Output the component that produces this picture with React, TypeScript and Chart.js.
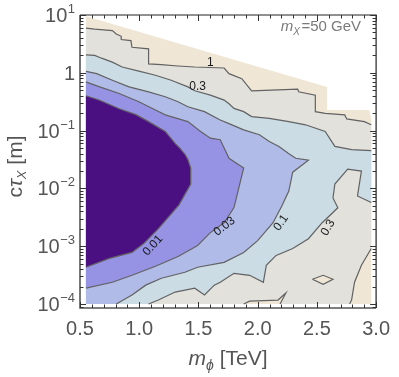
import React, { useEffect, useRef } from 'react';
import { Chart, registerables } from 'chart.js';

Chart.register(...registerables);

type P = [number, number]; // [m_phi (TeV), c tau (m)]

// ---- axis setup ----
const X_MIN = 0.5;
const X_MAX = 3.0;
const X_TICKS = [0.5, 1.0, 1.5, 2.0, 2.5, 3.0];
const Y_MIN = 8.53e-5;
const Y_MAX = 10;
const Y_TICK_EXPONENTS = [-4, -3, -2, -1, 0, 1];

// ---- region where the scan exists (outside is blank) ----
const scanDomain: P[] = [
  [0.55, 1e-4], [0.55, 9.5], [2.586, 0.57], [2.586, 0.228], [2.942, 0.228], [2.959, 0.16], [2.959, 1e-4],
];

// ---- contour level 1 ----
const contour1Upper: P[] = [
  [0.55, 5.94], [0.624, 5.71], [0.773, 5.36], [0.806, 4.69], [0.848, 4.28], [0.848, 3.76], [0.93, 3.61],
  [0.939, 2.77], [1.079, 2.59], [1.079, 1.43], [1.187, 1.38], [1.328, 1.31], [1.469, 1.26], [1.717, 1.21],
  [1.758, 0.966], [1.866, 0.792], [1.949, 0.488], [2.114, 0.501], [2.338, 0.521], [2.346, 0.469],
  [2.487, 0.411], [2.487, 0.213], [2.57, 0.199], [2.735, 0.187], [2.752, 0.159], [2.901, 0.143], [2.959, 0.126],
];
const contour1Lower: P[] = [
  [2.959, 0.000914], [2.876, 0.000467], [2.818, 0.000238], [2.793, 0.000117], [2.776, 1e-4],
];
const contour1Island: P[] = [
  [2.462, 0.000268], [2.553, 0.000314], [2.636, 0.000268], [2.553, 0.00022], [2.462, 0.000268],
];
const contour1Bottom: P[] = [
  [1.882, 1e-4], [1.932, 0.000112], [2.172, 0.000117], [2.238, 0.000155], [2.189, 1e-4],
];

// ---- contour level 0.3 ----
const contour03Upper: P[] = [
  [0.55, 2.04], [0.624, 2.0], [0.682, 1.79], [0.773, 1.53], [0.856, 1.26], [0.997, 1.07], [1.137, 0.906],
  [1.27, 0.743], [1.411, 0.57], [1.469, 0.488], [1.601, 0.411], [1.717, 0.337], [1.758, 0.292], [1.8, 0.242],
  [1.882, 0.213], [1.949, 0.175], [2.098, 0.163], [2.263, 0.143], [2.404, 0.126], [2.57, 0.0966],
  [2.652, 0.0533], [2.793, 0.0469], [2.959, 0.045],
];
const contour03Lower: P[] = [
  [2.959, 0.00569], [2.843, 0.00741], [2.876, 0.0199], [2.76, 0.0215], [2.652, 0.0119], [2.636, 0.00684],
  [2.677, 0.00462], [2.545, 0.00255], [2.429, 0.00135], [2.296, 0.000914], [2.156, 0.000692], [2.073, 0.000467],
  [2.048, 0.000238], [1.932, 0.000314], [1.8, 0.00034], [1.684, 0.000238], [1.634, 0.000212], [1.551, 0.000143],
  [1.469, 0.000188], [1.303, 0.000161], [1.162, 0.000117], [1.079, 1e-4],
];

// ---- contour level 0.1 ----
const contour01: P[] = [
  [0.55, 1.06], [0.641, 0.966], [0.773, 0.743], [0.914, 0.57], [1.079, 0.469], [1.22, 0.385], [1.328, 0.315],
  [1.411, 0.259], [1.551, 0.213], [1.684, 0.153], [1.758, 0.132], [1.882, 0.103], [2.015, 0.0847], [2.098, 0.065],
  [2.18, 0.0533], [2.255, 0.0409], [2.321, 0.0332], [2.429, 0.0307], [2.296, 0.0191], [2.263, 0.00901],
  [2.205, 0.00499], [2.13, 0.00255], [2.0, 0.00125], [1.882, 0.00078], [1.717, 0.000525], [1.493, 0.000432],
  [1.386, 0.000354], [1.187, 0.000279], [1.055, 0.000212], [0.939, 0.000143], [0.806, 1e-4],
];

// ---- contour level 0.03 ----
const contour003: P[] = [
  [0.55, 0.695], [0.666, 0.57], [0.831, 0.439], [0.997, 0.315], [1.137, 0.228], [1.22, 0.187], [1.411, 0.143],
  [1.518, 0.0966], [1.601, 0.0741], [1.684, 0.0695], [1.717, 0.0499], [1.758, 0.0332], [1.882, 0.0226],
  [1.8, 0.00467], [1.717, 0.00255], [1.601, 0.00172], [1.493, 0.00103], [1.328, 0.000665], [1.137, 0.000449],
  [0.939, 0.000314], [0.773, 0.000238], [0.55, 0.000188],
];

// ---- contour level 0.01 ----
const contour001: P[] = [
  [0.55, 0.000432], [0.748, 0.000615], [0.939, 0.00078], [1.038, 0.00111], [1.162, 0.00201], [1.336, 0.00519],
  [1.435, 0.0119], [1.435, 0.0224], [1.411, 0.0315], [1.386, 0.0389], [1.344, 0.0493], [1.303, 0.0601],
  [1.22, 0.0966], [1.079, 0.143], [0.972, 0.189], [0.831, 0.239], [0.666, 0.335], [0.55, 0.4],
];

// ---- contour labels ----
const labelTexts = ['1', '0.3', '0.01', '0.03', '0.1', '0.3'];
const labelM = [1.601, 1.493, 1.115, 1.72, 2.197, 2.594];
const labelTau = [1.5, 0.58, 0.00103, 0.0022, 0.00255, 0.00209];
const labelAngle = [0, 0, -48, -38, -55, -60];

const COLORS = {
  above1: '#EFE6D6',
  c03to1: '#E2E1DB',
  c01to03: '#CBDCE4',
  c003to01: '#B1BBE8',
  c001to003: '#9692E4',
  below001: '#4A1082',
  line: '#626262',
};

const FONT = '"Liberation Sans", Arial, sans-serif';
const BOTTOM: P = [0.55, 1e-4];

const pts = (arr: P[]) => arr.map(([x, y]) => ({ x, y }));

function fillDs(arr: P[], color: string) {
  return {
    data: pts(arr),
    fill: 'shape',
    backgroundColor: color,
    borderColor: 'rgba(0,0,0,0)',
    borderWidth: 0,
    pointRadius: 0,
    tension: 0,
  };
}
function lineDs(arr: P[]) {
  return {
    data: pts(arr),
    fill: false,
    borderColor: COLORS.line,
    borderWidth: 1.2,
    pointRadius: 0,
    tension: 0,
  };
}

const decorPlugin = {
  id: 'decor',
  afterDatasetsDraw(chart: any) {
    const { ctx } = chart;
    const xs = chart.scales.x;
    const ys = chart.scales.y;
    ctx.save();
    ctx.fillStyle = '#1a1a1a';
    ctx.font = `12px ${FONT}`;
    ctx.textAlign = 'center';
    ctx.textBaseline = 'middle';
    for (let i = 0; i < labelTexts.length; i++) {
      const px = xs.getPixelForValue(labelM[i]);
      const py = ys.getPixelForValue(labelTau[i]);
      ctx.save();
      ctx.translate(px, py);
      ctx.rotate((labelAngle[i] * Math.PI) / 180);
      ctx.fillText(labelTexts[i], 0, 0);
      ctx.restore();
    }
    ctx.restore();
  },
  afterDraw(chart: any) {
    const { ctx, chartArea: a } = chart;
    const xs = chart.scales.x;
    const ys = chart.scales.y;
    ctx.save();
    // frame
    ctx.strokeStyle = '#555';
    ctx.lineWidth = 1.6;
    ctx.beginPath();
    ctx.moveTo(a.left, a.top);
    ctx.lineTo(a.left, a.bottom);
    ctx.lineTo(a.right, a.bottom);
    ctx.stroke();
    ctx.strokeStyle = '#222';
    ctx.lineWidth = 1.2;
    ctx.beginPath();
    ctx.moveTo(a.left, a.top);
    ctx.lineTo(a.right, a.top);
    ctx.lineTo(a.right, a.bottom);
    ctx.stroke();

    // ticks
    ctx.strokeStyle = '#333';
    ctx.lineWidth = 1;
    ctx.beginPath();
    for (let k = 0; k <= 25; k++) {
      const v = X_MIN + k * 0.1;
      const px = Math.round(xs.getPixelForValue(v)) + 0.5;
      const len = k % 5 === 0 ? 6 : 3.5;
      ctx.moveTo(px, a.bottom);
      ctx.lineTo(px, a.bottom - len);
      ctx.moveTo(px, a.top);
      ctx.lineTo(px, a.top + len);
    }
    for (let e = -5; e <= 1; e++) {
      for (let m = 1; m <= 9; m++) {
        const v = m * Math.pow(10, e);
        if (v < Y_MIN || v > Y_MAX * 1.0001) continue;
        const py = Math.round(ys.getPixelForValue(v)) + 0.5;
        const len = m === 1 ? 6 : 3.5;
        ctx.moveTo(a.left, py);
        ctx.lineTo(a.left + len, py);
        ctx.moveTo(a.right, py);
        ctx.lineTo(a.right - len, py);
      }
    }
    ctx.stroke();

    // y tick labels with superscripts
    ctx.fillStyle = '#555';
    ctx.textBaseline = 'alphabetic';
    const right = a.left - 5;
    for (const e of Y_TICK_EXPONENTS) {
      const py = ys.getPixelForValue(Math.pow(10, e));
      const base = py + 7;
      if (e === 0) {
        ctx.font = `20px ${FONT}`;
        ctx.textAlign = 'right';
        ctx.fillText('1', right, base);
        continue;
      }
      const expStr = e < 0 ? '\u2212' + -e : String(e);
      ctx.font = `13px ${FONT}`;
      const ew = ctx.measureText(expStr).width;
      ctx.textAlign = 'left';
      ctx.fillText(expStr, right - ew, base - 9);
      ctx.font = `20px ${FONT}`;
      ctx.textAlign = 'right';
      ctx.fillText('10', right - ew - 0.5, base);
    }

    const drawParts = (parts: { t: string; f: string; dy: number; gap?: number }[], cx: number, by: number) => {
      let total = 0;
      for (const p of parts) {
        ctx.font = p.f;
        total += ctx.measureText(p.t).width + (p.gap || 0);
      }
      let x = cx - total / 2;
      ctx.textAlign = 'left';
      for (const p of parts) {
        ctx.font = p.f;
        ctx.fillText(p.t, x, by + p.dy);
        x += ctx.measureText(p.t).width + (p.gap || 0);
      }
    };

    // x axis title: m_phi [TeV]
    ctx.fillStyle = '#555';
    drawParts(
      [
        { t: 'm', f: `italic 21px ${FONT}`, dy: 0 },
        { t: '\u03d5', f: `italic 14px ${FONT}`, dy: 5 },
        { t: ' [TeV]', f: `21px ${FONT}`, dy: 0 },
      ],
      (a.left + a.right) / 2,
      365,
    );

    // y axis title: c tau_X [m]
    ctx.save();
    ctx.translate(22, (a.top + a.bottom) / 2 + 5);
    ctx.rotate(-Math.PI / 2);
    drawParts(
      [
        { t: 'c', f: `21px ${FONT}`, dy: 0 },
        { t: '\u03c4', f: `italic 21px ${FONT}`, dy: 0 },
        { t: 'X', f: `italic 13px ${FONT}`, dy: 4 },
        { t: ' [m]', f: `21px ${FONT}`, dy: 0 },
      ],
      0,
      0,
    );
    ctx.restore();

    // annotation
    ctx.fillStyle = '#7a7a7a';
    const annParts = [
      { t: 'm', f: `italic 15px ${FONT}`, dy: 0 },
      { t: 'X', f: `italic 10px ${FONT}`, dy: 4, gap: 1.5 },
      { t: '=50 GeV', f: `15px ${FONT}`, dy: 0 },
    ];
    let w = 0;
    for (const p of annParts) { ctx.font = p.f; w += ctx.measureText(p.t).width + ((p as any).gap || 0); }
    drawParts(annParts, a.right - 15 - w / 2, 31);

    ctx.restore();
  },
};

export default function App() {
  const ref = useRef<HTMLCanvasElement | null>(null);
  useEffect(() => {
    if (!ref.current) return;
    const layers: any[] = [
      fillDs(scanDomain, COLORS.above1),
      fillDs([...contour1Upper, ...contour1Lower, BOTTOM], COLORS.c03to1),
      fillDs(contour1Island, COLORS.above1),
      fillDs(contour1Bottom, COLORS.above1),
      fillDs([...contour03Upper, ...contour03Lower, BOTTOM], COLORS.c01to03),
      fillDs([...contour01, BOTTOM], COLORS.c003to01),
      fillDs(contour003, COLORS.c001to003),
      fillDs(contour001, COLORS.below001),
      lineDs(contour1Upper),
      lineDs(contour1Lower),
      lineDs(contour1Island),
      lineDs(contour1Bottom),
      lineDs(contour03Upper),
      lineDs(contour03Lower),
      lineDs(contour01),
      lineDs(contour003),
      lineDs(contour001),
    ];
    const n = layers.length;
    layers.forEach((d, i) => (d.order = n - i));

    const chart = new Chart(ref.current, {
      type: 'line',
      data: { datasets: layers },
      options: {
        animation: false,
        responsive: false,
        devicePixelRatio: 1,
        layout: { padding: { top: 15, right: 17, left: 0, bottom: 0 } },
        plugins: { legend: { display: false }, tooltip: { enabled: false } },
        elements: { point: { radius: 0 }, line: { tension: 0 } },
        scales: {
          x: {
            type: 'linear',
            min: X_MIN,
            max: X_MAX,
            afterBuildTicks: (s: any) => {
              s.ticks = X_TICKS.map((v) => ({ value: v }));
            },
            grid: { display: false, drawTicks: false },
            border: { display: false },
            ticks: {
              callback: (v: any) => Number(v).toFixed(1),
              font: { size: 20, family: FONT },
              color: '#555',
              padding: 9,
              maxRotation: 0,
              autoSkip: false,
            },
            afterFit: (s: any) => {
              s.height = 69;
            },
          },
          y: {
            type: 'logarithmic',
            min: Y_MIN,
            max: Y_MAX,
            grid: { display: false, drawTicks: false },
            border: { display: false },
            ticks: { display: false },
            afterFit: (s: any) => {
              s.width = 80;
            },
          },
        },
      } as any,
      plugins: [decorPlugin],
    });
    return () => chart.destroy();
  }, []);

  return (
    <div style={{ position: 'absolute', left: 0, top: 0, width: 399, height: 377, background: '#fff' }}>
      <canvas ref={ref} width={399} height={377} style={{ display: 'block', width: 399, height: 377 }} />
    </div>
  );
}
